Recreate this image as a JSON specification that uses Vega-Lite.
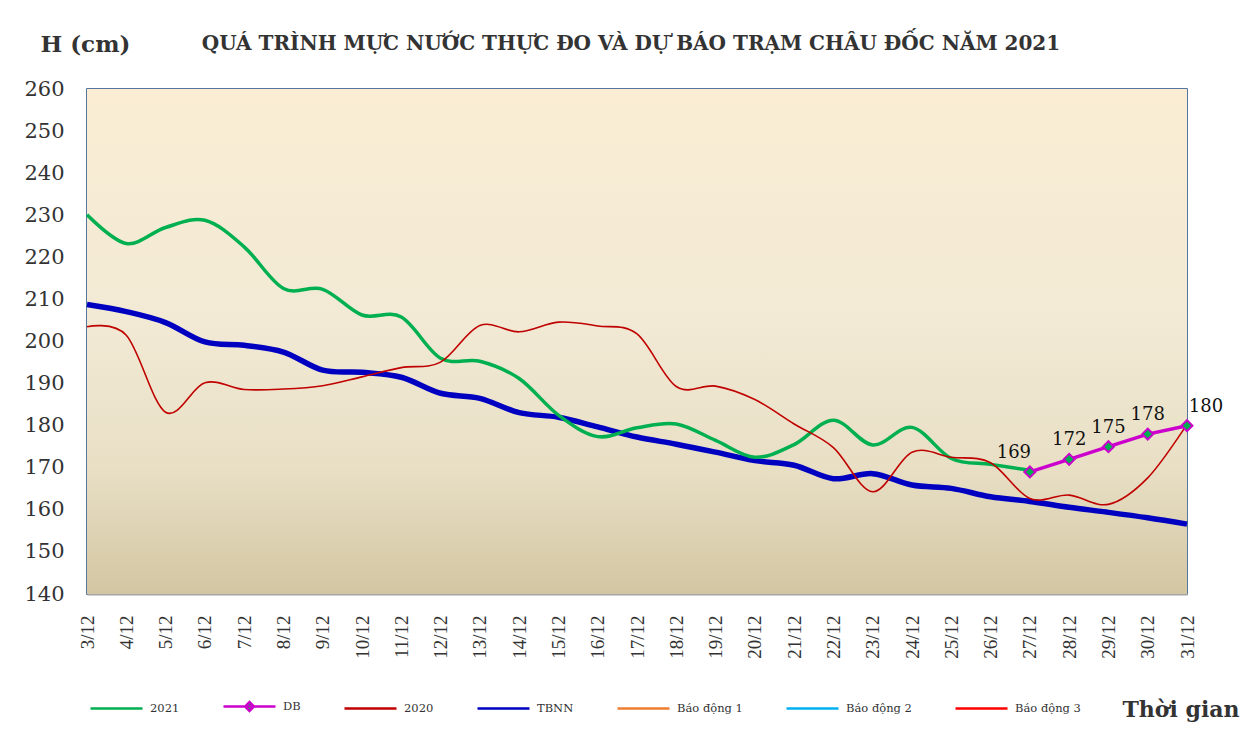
{
  "$schema": "https://vega.github.io/schema/vega-lite/v6.json",
  "width": 1100,
  "height": 505,
  "autosize": "none",
  "padding": {"left": 87, "top": 89, "right": 54, "bottom": 157},
  "background": "white",
  "config": {
    "view": {"stroke": "#1F497D", "strokeWidth": 1.5}
  },
  "title": {
    "text": "QUÁ TRÌNH MỰC NƯỚC THỰC ĐO VÀ DỰ BÁO TRẠM CHÂU ĐỐC NĂM  2021",
    "anchor": "middle",
    "frame": "group",
    "orient": "top",
    "baseline": "alphabetic",
    "offset": -37,
    "dx": -6,
    "font": "DejaVu Serif",
    "fontWeight": "bold",
    "fontSize": 20,
    "color": "#333333"
  },
  "datasets": {
    "series": [
      {"d": "3/12", "s": "2021", "v": 230.1},
      {"d": "4/12", "s": "2021", "v": 223.3},
      {"d": "5/12", "s": "2021", "v": 227.1},
      {"d": "6/12", "s": "2021", "v": 228.8},
      {"d": "7/12", "s": "2021", "v": 222.5},
      {"d": "8/12", "s": "2021", "v": 212.6},
      {"d": "9/12", "s": "2021", "v": 212.4},
      {"d": "10/12", "s": "2021", "v": 206.3},
      {"d": "11/12", "s": "2021", "v": 205.8},
      {"d": "12/12", "s": "2021", "v": 196.0},
      {"d": "13/12", "s": "2021", "v": 195.3},
      {"d": "14/12", "s": "2021", "v": 191.2},
      {"d": "15/12", "s": "2021", "v": 182.5},
      {"d": "16/12", "s": "2021", "v": 177.4},
      {"d": "17/12", "s": "2021", "v": 179.5},
      {"d": "18/12", "s": "2021", "v": 180.4},
      {"d": "19/12", "s": "2021", "v": 176.5},
      {"d": "20/12", "s": "2021", "v": 172.5},
      {"d": "21/12", "s": "2021", "v": 175.5},
      {"d": "22/12", "s": "2021", "v": 181.3},
      {"d": "23/12", "s": "2021", "v": 175.4},
      {"d": "24/12", "s": "2021", "v": 179.6},
      {"d": "25/12", "s": "2021", "v": 172.2},
      {"d": "26/12", "s": "2021", "v": 170.8},
      {"d": "27/12", "s": "2021", "v": 169.4},
      {"d": "3/12", "s": "2020", "v": 203.5},
      {"d": "4/12", "s": "2020", "v": 201.5},
      {"d": "5/12", "s": "2020", "v": 183.2},
      {"d": "6/12", "s": "2020", "v": 190.2},
      {"d": "7/12", "s": "2020", "v": 188.6},
      {"d": "8/12", "s": "2020", "v": 188.7},
      {"d": "9/12", "s": "2020", "v": 189.5},
      {"d": "10/12", "s": "2020", "v": 191.6},
      {"d": "11/12", "s": "2020", "v": 193.8},
      {"d": "12/12", "s": "2020", "v": 195.1},
      {"d": "13/12", "s": "2020", "v": 203.8},
      {"d": "14/12", "s": "2020", "v": 202.3},
      {"d": "15/12", "s": "2020", "v": 204.6},
      {"d": "16/12", "s": "2020", "v": 203.7},
      {"d": "17/12", "s": "2020", "v": 201.8},
      {"d": "18/12", "s": "2020", "v": 189.3},
      {"d": "19/12", "s": "2020", "v": 189.4},
      {"d": "20/12", "s": "2020", "v": 186.2},
      {"d": "21/12", "s": "2020", "v": 180.4},
      {"d": "22/12", "s": "2020", "v": 174.8},
      {"d": "23/12", "s": "2020", "v": 164.3},
      {"d": "24/12", "s": "2020", "v": 173.7},
      {"d": "25/12", "s": "2020", "v": 172.5},
      {"d": "26/12", "s": "2020", "v": 171.2},
      {"d": "27/12", "s": "2020", "v": 162.7},
      {"d": "28/12", "s": "2020", "v": 163.5},
      {"d": "29/12", "s": "2020", "v": 161.3},
      {"d": "30/12", "s": "2020", "v": 167.6},
      {"d": "31/12", "s": "2020", "v": 180.3},
      {"d": "3/12", "s": "TBNN", "v": 208.8},
      {"d": "4/12", "s": "TBNN", "v": 207.1},
      {"d": "5/12", "s": "TBNN", "v": 204.5},
      {"d": "6/12", "s": "TBNN", "v": 199.9},
      {"d": "7/12", "s": "TBNN", "v": 199.1},
      {"d": "8/12", "s": "TBNN", "v": 197.5},
      {"d": "9/12", "s": "TBNN", "v": 193.2},
      {"d": "10/12", "s": "TBNN", "v": 192.7},
      {"d": "11/12", "s": "TBNN", "v": 191.5},
      {"d": "12/12", "s": "TBNN", "v": 187.7},
      {"d": "13/12", "s": "TBNN", "v": 186.5},
      {"d": "14/12", "s": "TBNN", "v": 183.1},
      {"d": "15/12", "s": "TBNN", "v": 182.0},
      {"d": "16/12", "s": "TBNN", "v": 179.7},
      {"d": "17/12", "s": "TBNN", "v": 177.3},
      {"d": "18/12", "s": "TBNN", "v": 175.6},
      {"d": "19/12", "s": "TBNN", "v": 173.7},
      {"d": "20/12", "s": "TBNN", "v": 171.7},
      {"d": "21/12", "s": "TBNN", "v": 170.6},
      {"d": "22/12", "s": "TBNN", "v": 167.4},
      {"d": "23/12", "s": "TBNN", "v": 168.6},
      {"d": "24/12", "s": "TBNN", "v": 165.9},
      {"d": "25/12", "s": "TBNN", "v": 165.1},
      {"d": "26/12", "s": "TBNN", "v": 163.1},
      {"d": "27/12", "s": "TBNN", "v": 162.0},
      {"d": "28/12", "s": "TBNN", "v": 160.6},
      {"d": "29/12", "s": "TBNN", "v": 159.4},
      {"d": "30/12", "s": "TBNN", "v": 158.1},
      {"d": "31/12", "s": "TBNN", "v": 156.6},
      {"d": "27/12", "s": "DB", "v": 169},
      {"d": "28/12", "s": "DB", "v": 172},
      {"d": "29/12", "s": "DB", "v": 175},
      {"d": "30/12", "s": "DB", "v": 178},
      {"d": "31/12", "s": "DB", "v": 180}
    ]
  },
  "encoding": {
    "x": {
      "field": "d",
      "type": "ordinal",
      "scale": {
        "type": "point",
        "padding": 0,
        "domain": ["3/12","4/12","5/12","6/12","7/12","8/12","9/12","10/12","11/12","12/12","13/12","14/12","15/12","16/12","17/12","18/12","19/12","20/12","21/12","22/12","23/12","24/12","25/12","26/12","27/12","28/12","29/12","30/12","31/12"]
      },
      "axis": {
        "title": "Thời gian",
        "titleFont": "DejaVu Serif",
        "titleFontWeight": "bold",
        "titleFontSize": 22,
        "titleColor": "#333333",
        "titleAngle": 0,
        "titleAlign": "left",
        "titleBaseline": "alphabetic",
        "titleAnchor": null,
        "titleX": 1035,
        "titleY": 122,
        "labelAngle": -90,
        "labelAlign": "right",
        "labelBaseline": "middle",
        "labelFont": "Liberation Serif",
        "labelFontSize": 19,
        "labelColor": "#333333",
        "labelPadding": 21,
        "ticks": false,
        "tickSize": 0,
        "domain": true,
        "domainColor": "#A6A6A6",
        "domainWidth": 2,
        "grid": false
      }
    },
    "y": {
      "field": "v",
      "type": "quantitative",
      "scale": {"domain": [140, 260], "nice": false, "zero": false},
      "axis": {
        "title": "H (cm)",
        "titleFont": "DejaVu Serif",
        "titleFontWeight": "bold",
        "titleFontSize": 23,
        "titleColor": "#333333",
        "titleAngle": 0,
        "titleAlign": "left",
        "titleBaseline": "alphabetic",
        "titleAnchor": null,
        "titleX": -47,
        "titleY": -38,
        "values": [140,150,160,170,180,190,200,210,220,230,240,250,260],
        "labelFont": "DejaVu Serif",
        "labelFontSize": 21,
        "labelColor": "#333333",
        "labelPadding": 23,
        "ticks": false,
        "tickSize": 0,
        "domain": false,
        "grid": false
      }
    }
  },
  "layer": [
    {
      "data": {"values": [{}]},
      "mark": {
        "type": "rect",
        "color": {
          "gradient": "linear",
          "x1": 0, "y1": 0, "x2": 0, "y2": 1,
          "stops": [
            {"offset": 0, "color": "#FAEDD3"},
            {"offset": 0.45, "color": "#F2EAD5"},
            {"offset": 0.75, "color": "#E8DFC5"},
            {"offset": 1, "color": "#D3C6A2"}
          ]
        }
      },
      "encoding": {"x": null, "y": null}
    },
    {
      "data": {"name": "series"},
      "transform": [{"filter": "datum.s === 'TBNN'"}],
      "mark": {"type": "line", "interpolate": "cardinal", "strokeWidth": 5.5},
      "encoding": {
        "color": {
          "field": "s", "type": "nominal",
          "scale": {
            "domain": ["2021", "DB", "2020", "TBNN", "Báo động 1", "Báo động 2", "Báo động 3"],
            "range": ["#00B050", "#CC00CC", "#C00000", "#0000C0", "#ED7D31", "#00B0F0", "#FF0000"]
          },
          "legend": {
            "orient": "none",
            "legendX": 2,
            "legendY": 590,
            "direction": "horizontal",
            "columns": 7,
            "columnPadding": 38,
            "padding": 0,
            "title": null,
            "symbolType": "stroke",
            "symbolSize": 2704,
            "symbolStrokeWidth": 2.5,
            "labelFont": "DejaVu Serif",
            "labelFontSize": 11.5,
            "labelColor": "#333333",
            "labelOffset": 6,
            "encode": {
              "symbols": {
                "update": {
                  "shape": {"signal": "datum.value === 'DB' ? 'M-1,0H1M-0.17,0L0,-0.17L0.17,0L0,0.17Z' : 'M-1,0H1'"},
                  "fill": {"signal": "datum.value === 'DB' ? '#00B050' : 'transparent'"}
                }
              }
            }
          }
        }
      }
    },
    {
      "data": {"name": "series"},
      "transform": [{"filter": "datum.s === '2021'"}],
      "mark": {"type": "line", "interpolate": "cardinal", "strokeWidth": 3.5},
      "encoding": {
        "color": {
          "field": "s", "type": "nominal",
          "scale": {
            "domain": ["2021", "DB", "2020", "TBNN", "Báo động 1", "Báo động 2", "Báo động 3"],
            "range": ["#00B050", "#CC00CC", "#C00000", "#0000C0", "#ED7D31", "#00B0F0", "#FF0000"]
          }
        }
      }
    },
    {
      "data": {"name": "series"},
      "transform": [{"filter": "datum.s === '2020'"}],
      "mark": {"type": "line", "interpolate": "cardinal", "strokeWidth": 1.6},
      "encoding": {
        "color": {
          "field": "s", "type": "nominal",
          "scale": {
            "domain": ["2021", "DB", "2020", "TBNN", "Báo động 1", "Báo động 2", "Báo động 3"],
            "range": ["#00B050", "#CC00CC", "#C00000", "#0000C0", "#ED7D31", "#00B0F0", "#FF0000"]
          }
        }
      }
    },
    {
      "data": {"name": "series"},
      "transform": [{"filter": "datum.s === 'DB'"}],
      "mark": {"type": "line", "strokeWidth": 3.5},
      "encoding": {
        "color": {
          "field": "s", "type": "nominal",
          "scale": {
            "domain": ["2021", "DB", "2020", "TBNN", "Báo động 1", "Báo động 2", "Báo động 3"],
            "range": ["#00B050", "#CC00CC", "#C00000", "#0000C0", "#ED7D31", "#00B0F0", "#FF0000"]
          }
        }
      }
    },
    {
      "data": {"name": "series"},
      "transform": [{"filter": "datum.s === 'DB'"}],
      "mark": {"type": "point", "shape": "diamond", "filled": true, "fill": "#00B050", "stroke": "#CC00CC", "strokeWidth": 2, "size": 120, "opacity": 1}
    },
    {
      "data": {"name": "series"},
      "transform": [{"filter": "datum.s === 'DB' && datum.d === '27/12'"}],
      "mark": {"type": "text", "font": "DejaVu Serif", "fontSize": 18, "color": "#111111", "baseline": "alphabetic", "align": "center", "dx": -16, "dy": -14},
      "encoding": {"text": {"field": "v", "type": "quantitative"}}
    },
    {
      "data": {"name": "series"},
      "transform": [{"filter": "datum.s === 'DB' && (datum.d === '28/12' || datum.d === '29/12' || datum.d === '30/12')"}],
      "mark": {"type": "text", "font": "DejaVu Serif", "fontSize": 18, "color": "#111111", "baseline": "alphabetic", "align": "center", "dx": 0, "dy": -14},
      "encoding": {"text": {"field": "v", "type": "quantitative"}}
    },
    {
      "data": {"name": "series"},
      "transform": [{"filter": "datum.s === 'DB' && datum.d === '31/12'"}],
      "mark": {"type": "text", "font": "DejaVu Serif", "fontSize": 18, "color": "#111111", "baseline": "alphabetic", "align": "center", "dx": 19, "dy": -14},
      "encoding": {"text": {"field": "v", "type": "quantitative"}}
    }
  ]
}
